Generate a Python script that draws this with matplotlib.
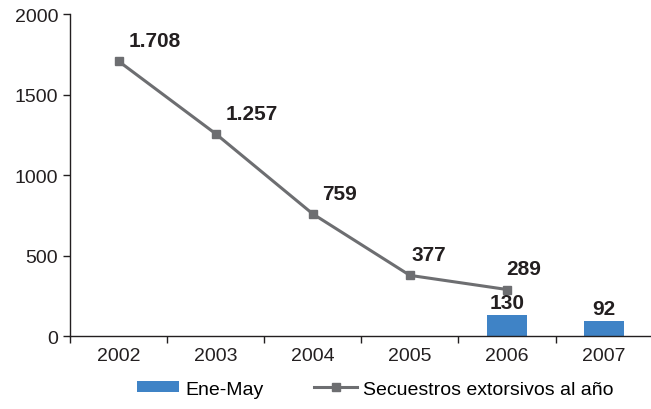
import matplotlib.pyplot as plt

years = ["2002", "2003", "2004", "2005", "2006", "2007"]
secuestros = [1708, 1257, 759, 377, 289]
secuestros_labels = ["1.708", "1.257", "759", "377", "289"]
ene_may = [130, 92]
ene_may_years = ["2006", "2007"]

plt.rcParams["font.family"] = ["Liberation Sans", "DejaVu Sans"]

blue = "#3f83c6"
gray = "#6d6e71"
dark = "#231f20"

fig = plt.figure(figsize=(6.51, 4.10), dpi=100)
ax = fig.add_axes([0.1075, 0.178, 0.895, 0.785])

x_line = list(range(len(secuestros)))
x_bar = [years.index(y) for y in ene_may_years]

bars = ax.bar(x_bar, ene_may, width=0.42, color=blue, label="Ene-May", zorder=2)
line, = ax.plot(x_line, secuestros, color=gray, lw=2.2, marker="s", ms=6,
                mfc=gray, mec=gray, label="Secuestros extorsivos al año", zorder=3)

offsets = [(7, 8), (7, 8), (7, 8), (1, 8), (12, 8)]
aligns = ["left", "left", "left", "left", "center"]
for xi, v, lab, off, ha in zip(x_line, secuestros, secuestros_labels, offsets, aligns):
    ax.annotate(lab, (xi, v), xytext=off, textcoords="offset points",
                ha=ha, va="bottom", fontsize=15, fontweight="bold", color=dark)
for xi, v in zip(x_bar, ene_may):
    ax.annotate(str(v), (xi, v), xytext=(0, 2), textcoords="offset points",
                ha="center", va="bottom", fontsize=15, fontweight="bold", color=dark)

ax.set_xlim(-0.5, 5.45)
ax.set_ylim(0, 2000)
ax.set_yticks([0, 500, 1000, 1500, 2000])
ax.set_xticks(range(len(years)))
ax.set_xticklabels(years)
ax.set_xticks([i - 0.5 for i in range(len(years) + 1)], minor=True)
ax.tick_params(axis="x", which="major", length=0, pad=8, labelsize=14, colors=dark)
ax.tick_params(axis="x", which="minor", length=5, width=1, color=dark, direction="out")
ax.tick_params(axis="y", length=5, width=1, color=dark, labelsize=14, labelcolor=dark)
for s in ["top", "right"]:
    ax.spines[s].set_visible(False)
for s in ["left", "bottom"]:
    ax.spines[s].set_color(dark)
    ax.spines[s].set_linewidth(1)

fig.legend([bars, line], ["Ene-May", "Secuestros extorsivos al año"],
           loc="lower center", bbox_to_anchor=(0.576, -0.015), ncol=2, frameon=False,
           fontsize=14, handlelength=2.2, columnspacing=2.6, handleheight=0.5,
           handletextpad=0.3)

fig.savefig("out.png", dpi=100)
